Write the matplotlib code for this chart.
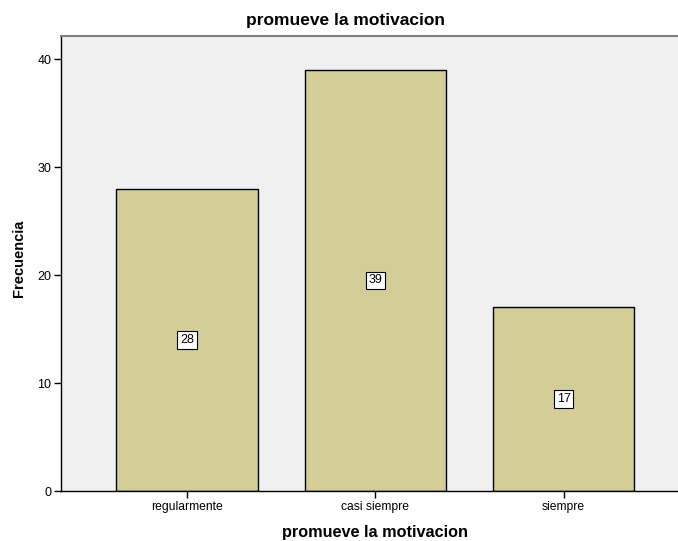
import matplotlib
matplotlib.use("Agg")
import matplotlib.pyplot as plt

categories = ["regularmente", "casi siempre", "siempre"]
values = [28, 39, 17]
yticks = [0, 10, 20, 30, 40]

plt.rcParams['font.family'] = ['Liberation Sans', 'DejaVu Sans']

W, H = 678, 541
fig = plt.figure(figsize=(W/100, H/100), dpi=100)
left, right, top, bottom = 61, 689.5, 36, 491
ax = fig.add_axes([left/W, 1 - bottom/H, (right-left)/W, (bottom-top)/H])
ax.set_facecolor('#f0f0f0')

x = list(range(len(categories)))
ax.bar(x, values, width=0.75, color='#d3ce97', edgecolor='black', linewidth=1.0, zorder=2)
for xi, v in zip(x, values):
    ax.text(xi, v/2, str(v), ha='center', va='center', fontsize=9, zorder=3,
            bbox=dict(boxstyle='square,pad=0.22', facecolor='white', edgecolor='black', linewidth=0.8))

ax.set_xlim(-0.668, 2.668)
ax.set_ylim(0, 42.13)
ax.set_xticks(x)
ax.set_xticklabels(categories, fontsize=8.7)
ax.set_yticks(yticks)
ax.set_yticklabels([str(t) for t in yticks], fontsize=9)
ax.tick_params(axis='both', direction='out', length=5, width=1, color='black', pad=2)

for s in ['left', 'bottom']:
    ax.spines[s].set_color('black')
    ax.spines[s].set_linewidth(1)
ax.spines['top'].set_color('#808080')
ax.spines['top'].set_linewidth(1.5)
ax.spines['right'].set_visible(False)

fig.text(346/W, 1 - 20/H, 'promueve la motivacion', fontsize=12.5, fontweight='bold',
         ha='center', va='center')
fig.text(375/W, 1 - 532/H, 'promueve la motivacion', fontsize=11.7, fontweight='bold',
         ha='center', va='center')
fig.text(19/W, 1 - 258/H, 'Frecuencia', fontsize=10.5, fontweight='bold',
         ha='center', va='center', rotation=90)

fig.savefig('out.png', dpi=100)
